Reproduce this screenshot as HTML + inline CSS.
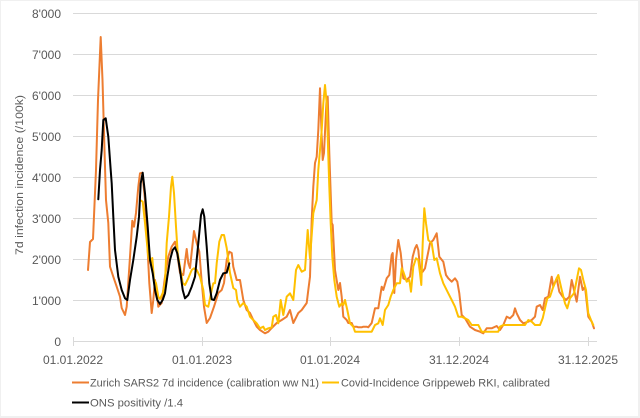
<!DOCTYPE html>
<html><head><meta charset="utf-8"><style>
html,body{margin:0;padding:0;background:#f0f0f0;}
svg{display:block;}
text{font-family:"Liberation Sans",sans-serif;fill:#595959;}
</style></head><body>
<svg width="640" height="418" viewBox="0 0 640 418" xmlns="http://www.w3.org/2000/svg">
<rect x="0" y="0" width="640" height="418" fill="#f0f0f0"/>
<rect x="1" y="1" width="637" height="415" fill="#ffffff"/>
<g stroke="#d9d9d9" stroke-width="1">
<line x1="73" y1="13.5" x2="597" y2="13.5"/>
<line x1="73" y1="54.5" x2="597" y2="54.5"/>
<line x1="73" y1="95.5" x2="597" y2="95.5"/>
<line x1="73" y1="136.5" x2="597" y2="136.5"/>
<line x1="73" y1="177.5" x2="597" y2="177.5"/>
<line x1="73" y1="218.5" x2="597" y2="218.5"/>
<line x1="73" y1="259.5" x2="597" y2="259.5"/>
<line x1="73" y1="300.5" x2="597" y2="300.5"/>
<line x1="73" y1="341.5" x2="597" y2="341.5"/>
<line x1="73.5" y1="337" x2="73.5" y2="346"/>
<line x1="202.5" y1="337" x2="202.5" y2="346"/>
<line x1="330.5" y1="337" x2="330.5" y2="346"/>
<line x1="459.5" y1="337" x2="459.5" y2="346"/>
<line x1="588.5" y1="337" x2="588.5" y2="346"/>
</g>
<g font-size="12" text-anchor="end">
<text x="61" y="18">8'000</text>
<text x="61" y="59">7'000</text>
<text x="61" y="100">6'000</text>
<text x="61" y="141">5'000</text>
<text x="61" y="182">4'000</text>
<text x="61" y="223">3'000</text>
<text x="61" y="264">2'000</text>
<text x="61" y="305">1'000</text>
<text x="61" y="346">0</text>
</g>
<g font-size="12" text-anchor="middle">
<text x="73" y="364">01.01.2022</text>
<text x="202" y="364">01.01.2023</text>
<text x="330" y="364">01.01.2024</text>
<text x="459" y="364">31.12.2024</text>
<text x="588" y="364">31.12.2025</text>
</g>
<text x="0" y="0" font-size="11" text-anchor="middle" transform="translate(23,175) rotate(-90)" textLength="160" lengthAdjust="spacingAndGlyphs">7d infection incidence (/100k)</text>
<g fill="none" stroke-linejoin="round" stroke-linecap="round" stroke-width="2">
<polyline stroke="#ED7D31" points="88,270 90,242 93,239 96,170 98,100 100.7,37 102.5,80 104.5,150 106,200 107.3,213 108.3,223 110,266.7 113.3,276.7 116.7,286.7 120,296.7 121.7,308 125,315 126.7,306.7 130,256.7 132.3,220.7 134,226.7 136,213 138.3,186.7 140,173.3 142.3,172.7 145,200 147.3,243 149.3,283 151.7,313 153.3,300 155,280 156.7,293 158.3,306.7 161.7,303 165,276.7 168.3,256.7 171.7,246.7 175,241.7 176.7,250 180,273 183.3,275 186.7,249 188.3,263 190,268 194,231 196.7,243 199.3,251.7 201.7,281.7 204,306.7 206.7,323 210,318 214,306.7 218.3,293 221.7,290 224,283 226.7,260 229.3,251.7 231.7,253 233.3,266.7 236.7,280 240,280 243.3,300 246.7,310 250,313 253.3,320 256.7,326.7 260,330 265,333.3 268.3,331.7 271.7,328 276.7,323 281.7,320 286.7,316.7 290,310 293.3,323 298.3,313 301.7,310 306.7,303 308.3,290 310,276.7 311.7,220 313.3,186.7 315,163 316.7,156.7 318.3,130 320,88.3 321.7,136.7 322.7,160 324,153 326.7,96.7 327.7,96.7 329.3,153 331.7,223 332.7,225 335,270 338.3,290 340,283 341.7,296.7 343.3,316.7 346.7,320 348.3,323 351.7,323 353.3,326.7 356.7,326.7 358.3,327.3 361.7,327.3 363.3,326.7 366.7,326.7 368.3,327.3 371.7,323 375,308.3 378.3,308.3 381.7,286.7 383.3,290 386.7,278.3 389.3,275 391.7,255 392.7,253 394.3,293 396,260 398.3,240 400.7,253 403.3,278.3 406.7,280 410,276.7 412.7,256.7 415,248.3 416.7,245 418.3,250 420,266.7 422.7,271.7 425,268.3 427.3,256.7 430,243.3 433.3,240 436.7,233.3 439.3,256.7 443.3,261.7 446,275 448.3,278.3 451.7,281.7 455,278.3 457.3,281.7 459.3,293.3 461.7,315 465,318.3 470,326.7 475,330 480,331.7 483.3,333.3 486.7,328.3 491.7,328.3 496.7,326 500,330 503.3,325 506.7,316.7 510,318.3 513.3,315 515,308.3 516.7,313.3 520,320 523.3,323.3 528.3,321.7 531.7,320 535,316.7 536.7,306.7 540,305 542.7,310 545,298.3 548.3,296.7 551.7,276.7 553.3,286.7 556.7,278.3 559.3,291.7 562.7,296.7 566,300 569.3,296.7 571.7,280 574,290 576.7,301.7 580,276.7 582.7,290 585,286.7 588.3,316.7 591.7,321.7 594,328.3"/>
<polyline stroke="#FFC000" points="140,200 142.7,201.7 145,223 148.3,256.7 150.7,263 152.3,258 154,280 156,283 158.3,296.7 160,299 162.7,293 165,283 166.7,243 169,216.7 171,186.7 172.3,176.7 174,193 176,226.7 177.7,253 180,266.7 182.7,283 185,285 188.3,278.3 191.7,270 194,268.3 196.7,270 200,276.7 203.3,290 205,305 208.3,306.7 211.7,290 213.3,283.3 215,283.3 216.7,263.3 219.3,241.7 221.7,235 224,235 226.7,248 230,273 233.3,288 236,290 237.3,300 240,306.7 243.3,303 246.7,306.7 250,316.7 253.3,320 256.7,323.3 260,328.3 263.3,326.7 265,330 268.3,328.3 271.7,327.3 273.3,316.7 276,315 278.3,323.3 280.7,300 283.3,315 286.7,296.7 290,293.3 293.3,300 296,270 298.3,265 301.7,271.7 305,270 307.7,230 310,258.3 313.3,213.3 316.7,200 318.3,170 321.7,130 323.3,103.3 325,85 326.7,103.3 327.7,136.7 329.3,186.7 330.7,223.3 332.3,256.7 334.3,280 336.7,296.7 339.3,306.7 341.7,303.3 343.3,305 345,300 347.3,310 350,323.3 353.3,326.7 355,331.7 360,331.7 366.7,331.7 371.7,331.7 375,325 378.3,323.3 380,318.3 382.7,325 385,310 388.3,305 390.7,296.7 393.3,290 396.7,283.3 400,283.3 401.7,268.3 403.3,271.7 406.7,281.7 409.3,280 411,291.7 413.3,266.7 416,258.3 418.3,260 420,273.3 421.3,285 422.7,243.3 424.3,208.3 426,223.3 428.3,240 431.7,243.3 434.3,260 436.7,258.3 440,273.3 443.3,283.3 448.3,293.3 451.7,300 455,306.7 458.3,316.7 461.7,316.7 465,318.3 468.3,320 471.7,325 478.3,325 481.7,331.7 486.7,331.7 493.3,331.7 498.3,331.7 500,326.7 503.3,325 513.3,325 520,325 525,325 528.3,320 531.7,321.7 535,325 540,325 542.7,318.3 545,308.3 547.3,298.3 550,296.7 553.3,286.7 556.7,278.3 558.3,275 561.7,290 565,303.3 567.3,308.3 570,298.3 574,293.3 576.7,280 579,268.3 581,270 583.3,280 586,290 588.3,313.3 591,320 593.3,325"/>
<polyline stroke="#000000" points="98.3,199.3 100,170 101.7,150 103.3,120 105.7,118.3 108.3,136.7 110.7,170 111.7,183.3 113.3,216.7 115,250 118.3,276.7 121.7,290 125,298.3 127.3,300 130,280 133.3,260 136.7,236.7 139,216.7 140.7,183.3 142.7,172.7 145,193.3 147.7,226.7 150,260 152.7,273.3 155,290 157.3,300 160,304 162.7,300 165,293.3 167.3,276.7 170,260 172.7,250 175,247.3 177.3,253.3 180,270 182.7,290 185,298.3 188.3,295 191.7,286.7 195,276.7 198.3,243.3 201,215 202.7,209.3 204.3,216.7 206.7,246.7 209.3,283.3 211.7,299.3 214,300 216.7,293.3 220,280 223.3,273.3 226.7,272.7 229.3,263.3"/>
</g>
<g stroke-width="2">
<line x1="72" y1="382.5" x2="89" y2="382.5" stroke="#ED7D31"/>
<line x1="322" y1="382.5" x2="339" y2="382.5" stroke="#FFC000"/>
<line x1="72" y1="402.5" x2="89" y2="402.5" stroke="#000000"/>
</g>
<g font-size="11">
<text x="90" y="386.5" textLength="229" lengthAdjust="spacingAndGlyphs">Zurich SARS2 7d incidence (calibration ww N1)</text>
<text x="341" y="386.5" textLength="209" lengthAdjust="spacingAndGlyphs">Covid-Incidence Grippeweb RKI, calibrated</text>
<text x="90" y="406.5" textLength="93" lengthAdjust="spacingAndGlyphs">ONS positivity /1.4</text>
</g>
</svg>
</body></html>
